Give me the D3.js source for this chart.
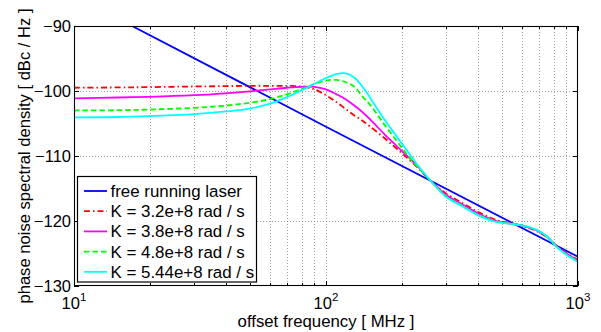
<!DOCTYPE html>
<html>
<head>
<meta charset="utf-8">
<script src="https://cdn.jsdelivr.net/npm/d3@7"></script>
<style>
  html, body { margin: 0; padding: 0; background: #fff; }
  svg { display: block; }
  text { font-family: "Liberation Sans", Arial, Helvetica, sans-serif; fill: #000; }
</style>
</head>
<body>
<svg id="chart" width="601" height="332"></svg>
<script>
// Offset frequencies (MHz) at which the loop responses are sampled
const freq = [10, 15, 20, 30, 40, 50, 60, 70, 80, 90, 100, 110, 120, 130, 140, 150, 170, 190, 210, 230,
              262, 300, 350, 400, 450, 500, 560, 620, 690, 760, 820, 900, 1000];

// Free running laser (straight -20 dB/decade line)
const freeFreq = [17, 100, 1000];
const freeNoise = [-90, -105.5, -125.5];

// Locked phase noise for each loop gain K (dBc/Hz)
const noiseK320 = [-99.5, -99.45, -99.4, -99.3, -99.25, -99.2, -99.2, -99.22, -99.3, -99.75, -100.65, -101.7, -102.8, -103.8, -104.6, -105.5, -107.2, -108.8, -110.3, -111.7,
                   -113.95, -115.8, -117.3, -118.6, -119.5, -120.1, -120.45, -120.9, -121.6, -122.6, -123.8, -124.9, -126.0];
const noiseK380 = [-101.15, -101.0, -100.9, -100.65, -100.35, -100.05, -99.75, -99.5, -99.35, -99.35, -99.75, -100.5, -101.3, -102.3, -103.3, -104.4, -106.6, -108.4, -110.0, -111.5,
                   -113.95, -116.0, -117.5, -118.8, -119.7, -120.2, -120.5, -120.85, -121.5, -122.55, -123.85, -125.0, -126.1];
const noiseK480 = [-103.0, -102.95, -102.85, -102.6, -102.25, -101.8, -101.25, -100.5, -99.7, -98.95, -98.4, -98.3, -98.65, -99.4, -100.9, -102.2, -105.1, -107.6, -109.8, -111.6,
                   -113.95, -116.2, -117.7, -119.0, -119.8, -120.25, -120.5, -120.8, -121.45, -122.5, -123.9, -125.1, -126.2];
const noiseK544 = [-104.05, -104.0, -103.85, -103.55, -103.15, -102.7, -101.95, -100.95, -99.9, -98.9, -98.0, -97.4, -97.3, -98.0, -99.4, -101.1, -104.3, -106.9, -109.2, -111.3,
                   -113.95, -116.3, -117.8, -119.1, -119.9, -120.3, -120.5, -120.8, -121.4, -122.5, -123.95, -125.2, -126.3];

const seriesLabels = ["free running laser", "K = 3.2e+8 rad / s", "K = 3.8e+8 rad / s", "K = 4.8e+8 rad / s", "K = 5.44e+8 rad / s"];
const yTicks = [-130, -120, -110, -100, -90];
const xMajorTicks = [10, 100, 1000];

const xTitle = "offset frequency [ MHz ]";
const yTitle = "phase noise spectral density [ dBc / Hz ]";

// Build the series list
const smooth = d3.curveCatmullRom.alpha(0.5);
const series = [
  { label: seriesLabels[0], color: "#0000ff", dash: null, curve: d3.curveLinear,
    pts: freeFreq.map((f, i) => [f, freeNoise[i]]) },
  { label: seriesLabels[1], color: "#ff0000", dash: "6,3,1.5,3", curve: smooth,
    pts: freq.map((f, i) => [f, noiseK320[i]]) },
  { label: seriesLabels[2], color: "#ff00ff", dash: null, curve: smooth,
    pts: freq.map((f, i) => [f, noiseK380[i]]) },
  { label: seriesLabels[3], color: "#00ff00", dash: "5.5,3", curve: smooth,
    pts: freq.map((f, i) => [f, noiseK480[i]]) },
  { label: seriesLabels[4], color: "#00ffff", dash: null, curve: smooth,
    pts: freq.map((f, i) => [f, noiseK544[i]]) }
];

const plotL = 74, plotR = 578, plotT = 26, plotB = 286;
const x = d3.scaleLog().domain([10, 1000]).range([plotL, plotR]);
const y = d3.scaleLinear().domain([-130, -90]).range([plotB, plotT]);

const svg = d3.select("#chart");

svg.append("defs").append("clipPath").attr("id", "plotClip")
  .append("rect").attr("x", plotL).attr("y", plotT).attr("width", plotR - plotL).attr("height", plotB - plotT);

// Grid lines (dotted)
const allXTicks = x.ticks().filter(t => t > 10 && t < 1000);
const grid = svg.append("g").attr("stroke", "#8a8a8a").attr("stroke-width", 0.8).attr("stroke-dasharray", "1,2");
grid.selectAll("line.vx").data(allXTicks).join("line")
  .attr("x1", d => Math.round(x(d)) + 0.5).attr("x2", d => Math.round(x(d)) + 0.5)
  .attr("y1", plotT).attr("y2", plotB);
grid.selectAll("line.hy").data(yTicks.filter(t => t > -130 && t < -90)).join("line")
  .attr("x1", plotL).attr("x2", plotR)
  .attr("y1", d => Math.round(y(d)) + 0.5).attr("y2", d => Math.round(y(d)) + 0.5);

// Curves
const line = d3.line().x(d => x(d[0])).y(d => y(d[1]));
const curves = svg.append("g").attr("clip-path", "url(#plotClip)");
series.forEach(s => {
  curves.append("path")
    .attr("d", line.curve(s.curve)(s.pts))
    .attr("fill", "none")
    .attr("stroke", s.color)
    .attr("stroke-width", 1.8)
    .attr("stroke-dasharray", s.dash)
    .attr("stroke-linejoin", "round");
});

// Frame
svg.append("rect").attr("x", plotL + 0.5).attr("y", plotT + 0.5)
  .attr("width", plotR - plotL - 1).attr("height", plotB - plotT - 1)
  .attr("fill", "none").attr("stroke", "#000").attr("stroke-width", 1.1);

// Inward ticks on all four sides
const ticks = svg.append("g").attr("stroke", "#000").attr("stroke-width", 1);
const xAll = x.ticks();
ticks.selectAll("line.xb").data(xAll).join("line")
  .attr("x1", d => Math.round(x(d)) + 0.5).attr("x2", d => Math.round(x(d)) + 0.5)
  .attr("y1", plotB).attr("y2", d => plotB - (xMajorTicks.includes(d) ? 5 : 3));
ticks.selectAll("line.xt").data(xAll).join("line")
  .attr("x1", d => Math.round(x(d)) + 0.5).attr("x2", d => Math.round(x(d)) + 0.5)
  .attr("y1", plotT).attr("y2", d => plotT + (xMajorTicks.includes(d) ? 5 : 3));
ticks.selectAll("line.yl").data(yTicks).join("line")
  .attr("x1", plotL).attr("x2", plotL + 5)
  .attr("y1", d => Math.round(y(d)) + 0.5).attr("y2", d => Math.round(y(d)) + 0.5);
ticks.selectAll("line.yr").data(yTicks).join("line")
  .attr("x1", plotR).attr("x2", plotR - 5)
  .attr("y1", d => Math.round(y(d)) + 0.5).attr("y2", d => Math.round(y(d)) + 0.5);

// Y tick labels
const fmt = d3.format("d");
svg.append("g").selectAll("text").data(yTicks).join("text")
  .attr("x", plotL - 3).attr("y", d => y(d) + 6)
  .attr("text-anchor", "end").attr("font-size", 16.5)
  .text(d => fmt(d));

// X tick labels as powers of ten
const xl = svg.append("g").selectAll("text").data(xMajorTicks).join("text")
  .attr("x", d => x(d)).attr("y", 309)
  .attr("text-anchor", "middle").attr("font-size", 16.5);
xl.append("tspan").text("10");
xl.append("tspan").attr("font-size", 11.5).attr("dy", -8).text(d => Math.round(Math.log10(d)));

// Axis titles
svg.append("text").attr("x", (plotL + plotR) / 2).attr("y", 327)
  .attr("text-anchor", "middle").attr("font-size", 16.8).text(xTitle);
svg.append("text").attr("transform", `translate(30,${(plotT + plotB) / 2}) rotate(-90)`)
  .attr("text-anchor", "middle").attr("font-size", 16.6).text(yTitle);

// Legend
const lg = svg.append("g");
lg.append("rect").attr("x", 77.5).attr("y", 176.5).attr("width", 179).attr("height", 105.5)
  .attr("fill", "#fff").attr("stroke", "#000").attr("stroke-width", 1.2);
const rows = lg.selectAll("g.row").data(series).join("g")
  .attr("transform", (d, i) => `translate(0,${191 + i * 20.2})`);
rows.append("line").attr("x1", 84).attr("x2", 107).attr("y1", 0).attr("y2", 0)
  .attr("stroke", d => d.color).attr("stroke-width", 1.8)
  .attr("stroke-dasharray", d => d.dash);
rows.append("text").attr("x", 110.5).attr("y", 6).attr("font-size", 16.9).text(d => d.label);
</script>
</body>
</html>
